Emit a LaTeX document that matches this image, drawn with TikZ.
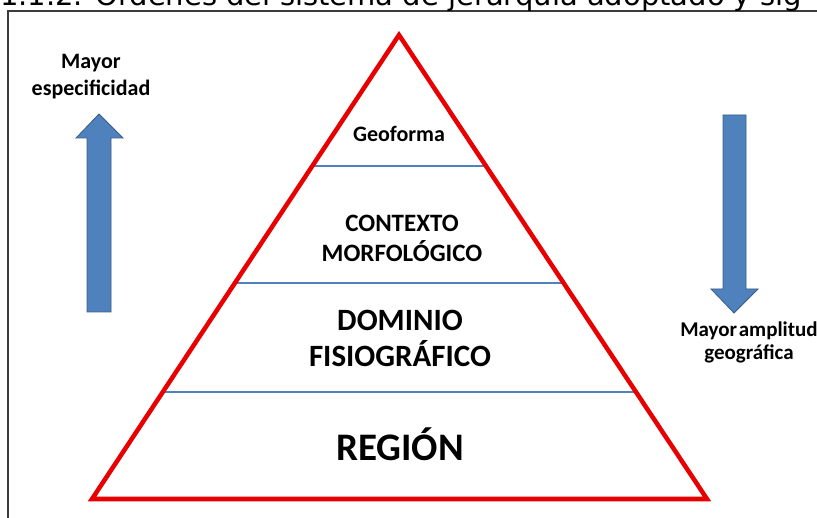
\documentclass[tikz,border=0pt]{standalone}
\usepackage{fontspec}
\setmainfont{Carlito}
\newfontfamily\captionfont{DejaVu Sans}
\pgfdeclarelayer{bg}
\pgfsetlayers{bg,main}
\definecolor{pyrred}{RGB}{232,0,0}
\definecolor{levelblue}{RGB}{79,129,189}
\definecolor{arrowedge}{RGB}{56,93,138}
\definecolor{framegray}{RGB}{60,60,60}
\tikzset{
        lvl/.style 2 args={font=\bfseries\fontsize{#1}{#2}\selectfont, align=center, inner sep=0pt},
        side/.style={draw=pyrred, line width=4.5pt, line join=miter},
        layer/.style={draw=levelblue, line width=2.5pt},
        blockarrow/.style={fill=levelblue, draw=arrowedge, line width=0.8pt}
}

\begin{document}
\begin{tikzpicture}[x=1pt, y=-1pt]
        \clip (0,0) rectangle (817,518);
        \node (cap) [anchor=base west, inner sep=0pt, font=\captionfont\fontsize{29}{30}\selectfont] at (0,6) {1.1.2. Órdenes del sistema de jerarquía adoptado y sig};
        \coordinate (t0) at (399,35);
        \coordinate (t1) at (92,499);
        \coordinate (t2) at (707,499);
        \coordinate (a1) at (312,166);
        \coordinate (b1) at (486,166);
        \coordinate (a2) at (234,283);
        \coordinate (b2) at (564,283);
        \coordinate (a3) at (162,392);
        \coordinate (b3) at (636,392);
        \node (geo) [lvl={22}{26}] at (399,134) {Geoforma};
        \node (ctx) [lvl={25}{30}] at (402,238) {CONTEXTO\\MORFOLÓGICO};
        \node (dom) [lvl={31}{36}] at (400,338) {DOMINIO\\FISIOGRÁFICO};
        \node (reg) [lvl={39}{42}] at (400,444) {REGIÓN};
        \node (spec) [lvl={22}{27}] at (91,77) {Mayor\\especificidad};
        \node (ampl) [lvl={21}{23}] at (749,342) {Mayor\hspace{0.08em}amplitud\\geográfica};
        \begin{pgfonlayer}{bg}
                \draw [framegray, line width=1.5pt] (8,11) rectangle (840,540);
                \draw [layer] (a1) -- (b1);
                \draw [layer] (a2) -- (b2);
                \draw [layer] (a3) -- (b3);
                \draw [side] (t0) -- (t1) -- (t2) -- cycle;
                \draw [blockarrow] (87,312) -- (87,138) -- (76,138) -- (99,114) -- (123,138) -- (111,138) -- (111,312) -- cycle;
                \draw [blockarrow] (723,115) -- (723,289) -- (711,289) -- (734,313) -- (758,289) -- (746,289) -- (746,115) -- cycle;
        \end{pgfonlayer}
\end{tikzpicture}
\end{document}
